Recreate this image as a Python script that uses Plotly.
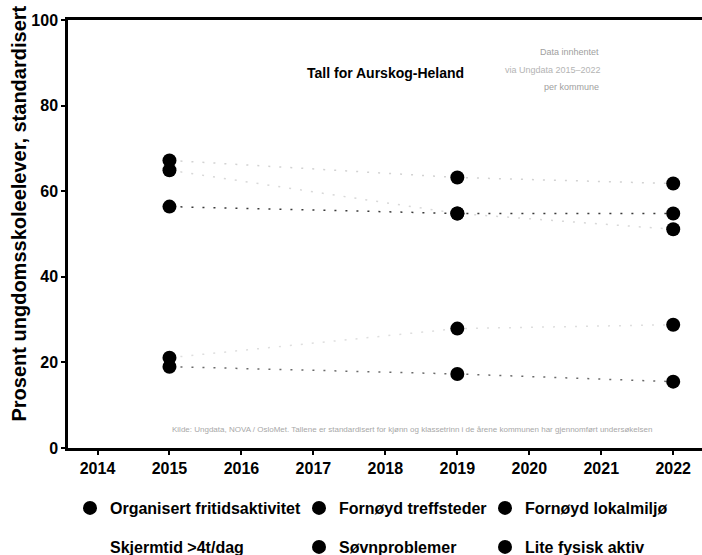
import plotly.graph_objects as go

years = [2015, 2019, 2022]
series_names = [
    "Organisert fritidsaktivitet",
    "Fornøyd treffsteder",
    "Fornøyd lokalmiljø",
    "Skjermtid >4t/dag",
    "Søvnproblemer",
    "Lite fysisk aktiv",
]
organisert = [67.2, 63.2, 61.8]
treffsteder = [56.4, 54.8, 54.8]
lokalmiljo = [64.9, 54.8, 51.1]
skjermtid = [None, None, None]
sovn = [21.1, 27.9, 28.8]
fysisk = [19.0, 17.3, 15.5]
values = [organisert, treffsteder, lokalmiljo, skjermtid, sovn, fysisk]
marker_colors = ["#000000", "#000000", "#000000", "#ffffff", "#000000", "#000000"]
line_colors = ["#d2d2d2", "#3a3a3a", "#d8d8d8", "#ffffff", "#dedede", "#6a6a6a"]

x_ticks = [2014, 2015, 2016, 2017, 2018, 2019, 2020, 2021, 2022]
y_ticks = [0, 20, 40, 60, 80, 100]

font_family = "Liberation Sans, Arial, sans-serif"

# figure geometry (pixels)
W, H = 702, 555
L, T, R, B = 68, 20, 0, 107
pw, ph = W - L - R, H - T - B


def px_x(px):
    return (px - L) / pw


def px_y(py):
    return (H - B - py) / ph


fig = go.Figure()
for name, vals, lc in zip(series_names, values, line_colors):
    fig.add_trace(go.Scatter(
        x=years, y=vals, mode="lines", showlegend=False, hoverinfo="skip",
        line=dict(color=lc, width=1.5, dash="2px,9px"),
    ))

legend_cols = [70, 299, 485]
legend_rows = [508, 547]
legend_layouts = {}
for i, (name, vals, mc) in enumerate(zip(series_names, values, marker_colors)):
    key = "legend" if i == 0 else f"legend{i + 1}"
    fig.add_trace(go.Scatter(
        x=years, y=vals, mode="markers", name=name,
        marker=dict(color=mc, size=14, line=dict(width=0)),
        legend=key,
    ))
    legend_layouts[key] = dict(
        orientation="h", x=px_x(legend_cols[i % 3]), y=px_y(legend_rows[i // 3]),
        xanchor="left", yanchor="middle", bgcolor="rgba(0,0,0,0)", borderwidth=0,
        font=dict(family=font_family, size=16, color="#000000", weight="bold"),
    )

fig.update_layout(
    width=W, height=H,
    margin=dict(l=L, r=R, t=T, b=B, autoexpand=False),
    paper_bgcolor="white", plot_bgcolor="white",
    font=dict(family=font_family, size=16, color="#000000"),
    xaxis=dict(
        range=[2013.59, 2022.40], tickmode="array", tickvals=x_ticks,
        ticktext=[str(t) for t in x_ticks],
        showgrid=False, zeroline=False, showline=True, linecolor="#000000",
        linewidth=2.5, mirror=True, ticks="outside", ticklen=4, tickwidth=2,
        tickcolor="#000000",
        tickfont=dict(size=16, color="#000000", weight="bold"),
    ),
    yaxis=dict(
        range=[0, 100], tickmode="array", tickvals=y_ticks,
        showgrid=False, zeroline=False, showline=True, linecolor="#000000",
        linewidth=2.5, ticks="outside", ticklen=4, tickwidth=2,
        tickcolor="#000000",
        tickfont=dict(size=16, color="#000000", weight="bold"),
    ),
    annotations=[
        dict(text="Prosent ungdomsskoleelever, standardisert", xref="paper", yref="paper",
             x=px_x(18.5), y=px_y(214), textangle=-90, showarrow=False,
             xanchor="center", yanchor="middle",
             font=dict(size=20, color="#000000", weight="bold")),
        dict(text="Tall for Aurskog-Heland", xref="paper", yref="paper",
             x=px_x(385), y=px_y(63), showarrow=False,
             font=dict(size=14, color="#000000", weight="bold")),
        dict(text="Data innhentet", xref="paper", yref="paper",
             x=px_x(601), y=px_y(45), showarrow=False, font=dict(size=9, color="#a0a0a0")),
        dict(text="via Ungdata 2015–2022", xref="paper", yref="paper",
             x=px_x(603), y=px_y(63), showarrow=False, font=dict(size=9, color="#b4b4b4")),
        dict(text="per kommune", xref="paper", yref="paper",
             x=px_x(601), y=px_y(80), showarrow=False, font=dict(size=9, color="#a0a0a0")),
        dict(text="Kilde: Ungdata, NOVA / OsloMet. Tallene er standardisert for kjønn og klassetrinn i de årene kommunen har gjennomført undersøkelsen",
             xref="paper", yref="paper", x=px_x(412), y=px_y(436), showarrow=False,
             font=dict(size=8, color="#a8a8a8")),
    ],
    **legend_layouts,
)

fig.write_html(
    "out.html",
    config={"displayModeBar": False},
    post_script="document.body.style.margin='0';document.body.style.overflow='hidden';",
)
